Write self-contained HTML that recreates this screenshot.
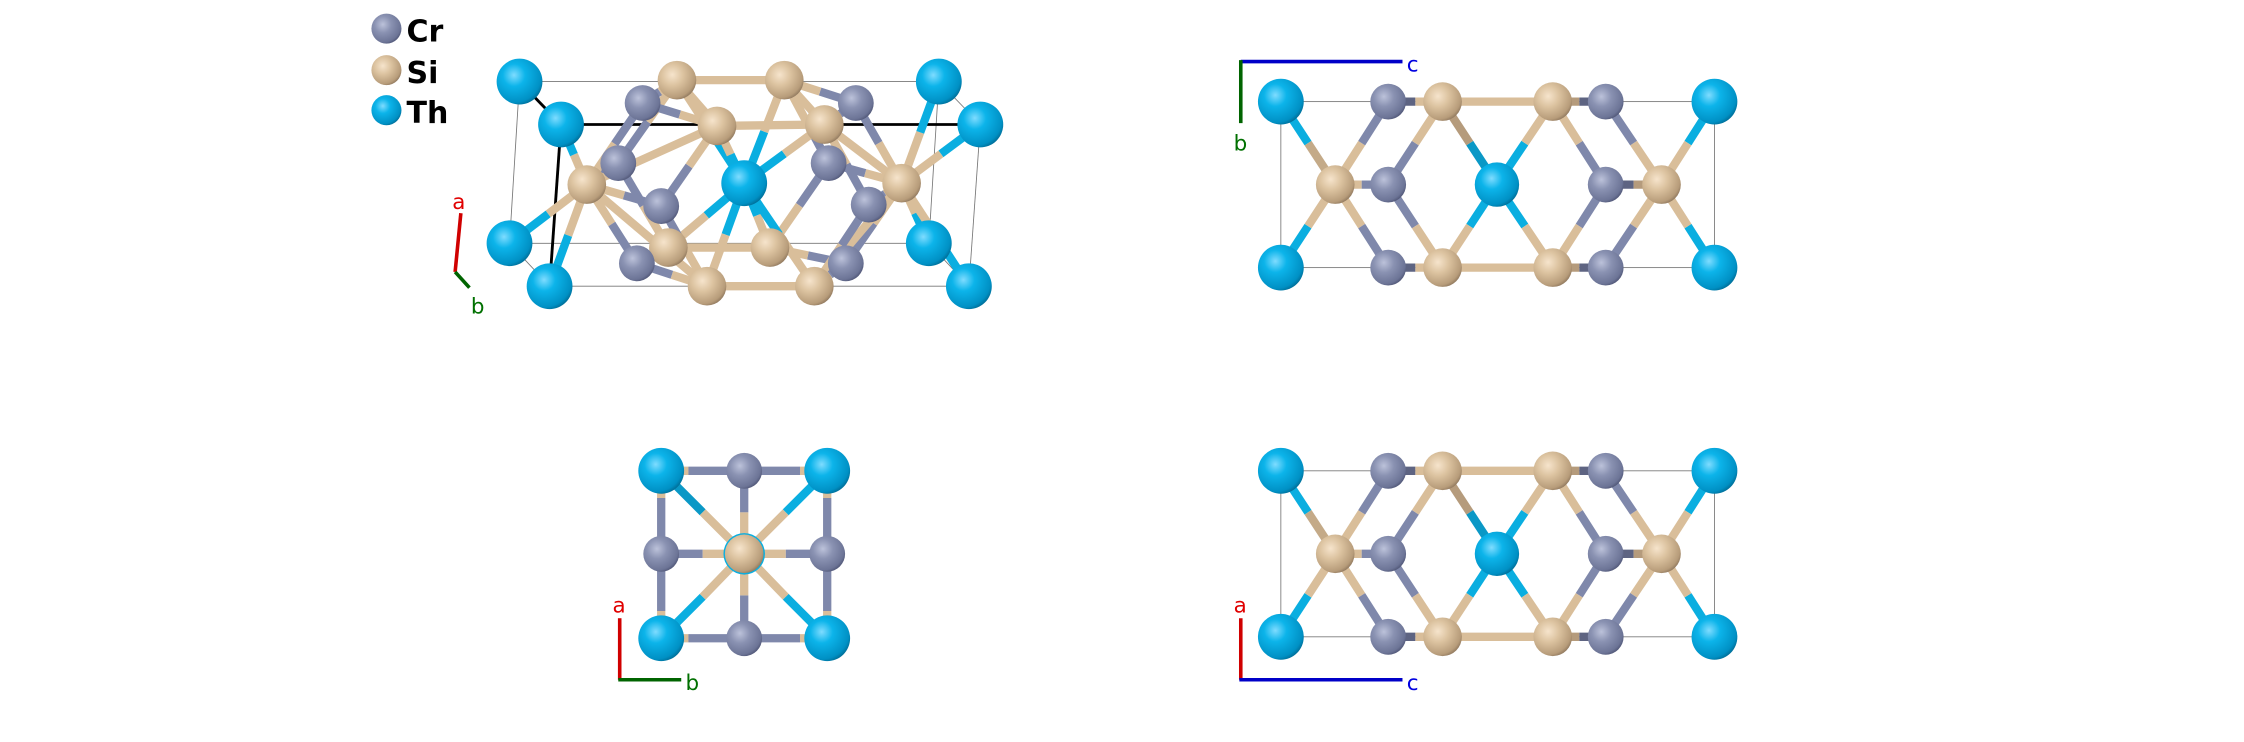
<!DOCTYPE html>
<html><head><meta charset="utf-8"><style>
html,body{margin:0;padding:0;background:#fff;}
svg{display:block;}
text{font-family:"DejaVu Sans","Liberation Sans",sans-serif;}
g[stroke-width="6.5"]{stroke-width:5.8;}
</style></head><body>
<svg width="2244" height="742" viewBox="0 0 1568 518.5" xmlns="http://www.w3.org/2000/svg">
<defs>
<radialGradient id="th" cx="0.38" cy="0.36" r="0.7"><stop offset="0" stop-color="#7fdcff"/><stop offset="0.35" stop-color="#0cb4ea"/><stop offset="0.85" stop-color="#0090c4"/><stop offset="1" stop-color="#006890"/></radialGradient>
<radialGradient id="si" cx="0.38" cy="0.36" r="0.7"><stop offset="0" stop-color="#f6e4cc"/><stop offset="0.4" stop-color="#dcc3a0"/><stop offset="0.85" stop-color="#b79c7a"/><stop offset="1" stop-color="#8a735a"/></radialGradient>
<radialGradient id="cr" cx="0.38" cy="0.36" r="0.7"><stop offset="0" stop-color="#bcc2da"/><stop offset="0.4" stop-color="#8a92b2"/><stop offset="0.85" stop-color="#6c7496"/><stop offset="1" stop-color="#4c5272"/></radialGradient>
</defs>

<!-- Legend -->
<circle cx="270" cy="20" r="10.5" fill="url(#cr)"/>
<circle cx="270" cy="49" r="10.5" fill="url(#si)"/>
<circle cx="270" cy="77" r="10.5" fill="url(#th)"/>
<text x="284" y="29" font-size="21" font-weight="bold" fill="#000">Cr</text>
<text x="284" y="58" font-size="21" font-weight="bold" fill="#000">Si</text>
<text x="284" y="86" font-size="21" font-weight="bold" fill="#000">Th</text>

<!-- Panel 1: 3D view -->
<g stroke="#777" stroke-width="0.6" fill="none">
<line x1="363" y1="57" x2="656" y2="57"/><line x1="656" y1="57" x2="685" y2="87"/>
<line x1="363" y1="57" x2="356" y2="170"/><line x1="656" y1="57" x2="649" y2="170"/>
<line x1="685" y1="87" x2="677" y2="200"/><line x1="356" y1="170" x2="649" y2="170"/>
<line x1="384" y1="200" x2="677" y2="200"/><line x1="356" y1="170" x2="384" y2="200"/><line x1="649" y1="170" x2="677" y2="200"/>
</g>
<g stroke="#000" stroke-width="2"><line x1="363" y1="57" x2="392" y2="87"/><line x1="392" y1="87" x2="685" y2="87"/><line x1="392" y1="87" x2="384" y2="200"/></g>

<g stroke-width="6.5" fill="none">
<line x1="467" y1="173" x2="538" y2="173" stroke="#d9be9a"/>
<line x1="473" y1="56" x2="548" y2="56" stroke="#d9be9a"/>
<line x1="473" y1="56" x2="501" y2="88" stroke="#d9be9a"/>
<line x1="548" y1="56" x2="576" y2="87" stroke="#d9be9a"/>
<line x1="432" y1="114" x2="452.5" y2="85" stroke="#7f88ab"/><line x1="452.5" y1="85" x2="473" y2="56" stroke="#d9be9a"/>
<line x1="579" y1="114" x2="563.5" y2="85" stroke="#7f88ab"/><line x1="563.5" y1="85" x2="548" y2="56" stroke="#d9be9a"/>
<line x1="445" y1="184" x2="456" y2="178.5" stroke="#7f88ab"/><line x1="456" y1="178.5" x2="467" y2="173" stroke="#d9be9a"/>
<line x1="591" y1="184" x2="564.5" y2="178.5" stroke="#7f88ab"/><line x1="564.5" y1="178.5" x2="538" y2="173" stroke="#d9be9a"/>
<line x1="432" y1="114" x2="449.5" y2="143.5" stroke="#7f88ab"/><line x1="449.5" y1="143.5" x2="467" y2="173" stroke="#d9be9a"/>
<line x1="579" y1="114" x2="558.5" y2="143.5" stroke="#7f88ab"/><line x1="558.5" y1="143.5" x2="538" y2="173" stroke="#d9be9a"/>
<line x1="449" y1="72" x2="461" y2="64" stroke="#7f88ab"/><line x1="461" y1="64" x2="473" y2="56" stroke="#d9be9a"/>
<line x1="449" y1="72" x2="475" y2="80" stroke="#7f88ab"/><line x1="475" y1="80" x2="501" y2="88" stroke="#d9be9a"/>
<line x1="598" y1="72" x2="573" y2="64" stroke="#7f88ab"/><line x1="573" y1="64" x2="548" y2="56" stroke="#d9be9a"/>
<line x1="598" y1="72" x2="587" y2="79.5" stroke="#7f88ab"/><line x1="587" y1="79.5" x2="576" y2="87" stroke="#d9be9a"/>
<line x1="520" y1="128" x2="496.5" y2="92" stroke="#0aaee0"/><line x1="496.5" y1="92" x2="473" y2="56" stroke="#d9be9a"/>
<line x1="520" y1="128" x2="534" y2="92" stroke="#0aaee0"/><line x1="534" y1="92" x2="548" y2="56" stroke="#d9be9a"/>
<line x1="520" y1="128" x2="493.5" y2="150.5" stroke="#0aaee0"/><line x1="493.5" y1="150.5" x2="467" y2="173" stroke="#d9be9a"/>
<line x1="520" y1="128" x2="529" y2="150.5" stroke="#0aaee0"/><line x1="529" y1="150.5" x2="538" y2="173" stroke="#d9be9a"/>
<line x1="520" y1="128" x2="510.5" y2="108" stroke="#0aaee0"/><line x1="510.5" y1="108" x2="501" y2="88" stroke="#d9be9a"/>
<line x1="520" y1="128" x2="548" y2="107.5" stroke="#0aaee0"/><line x1="548" y1="107.5" x2="576" y2="87" stroke="#d9be9a"/>
<line x1="520" y1="128" x2="507" y2="164" stroke="#0aaee0"/><line x1="507" y1="164" x2="494" y2="200" stroke="#d9be9a"/>
<line x1="520" y1="128" x2="544.5" y2="164" stroke="#0aaee0"/><line x1="544.5" y1="164" x2="569" y2="200" stroke="#d9be9a"/>
<line x1="410" y1="129" x2="401" y2="108" stroke="#d9be9a"/><line x1="401" y1="108" x2="392" y2="87" stroke="#0aaee0"/>
<line x1="410" y1="129" x2="383" y2="149.5" stroke="#d9be9a"/><line x1="383" y1="149.5" x2="356" y2="170" stroke="#0aaee0"/>
<line x1="410" y1="129" x2="397" y2="164.5" stroke="#d9be9a"/><line x1="397" y1="164.5" x2="384" y2="200" stroke="#0aaee0"/>
<line x1="410" y1="129" x2="421" y2="121.5" stroke="#d9be9a"/><line x1="421" y1="121.5" x2="432" y2="114" stroke="#7f88ab"/>
<line x1="410" y1="129" x2="436" y2="136.5" stroke="#d9be9a"/><line x1="436" y1="136.5" x2="462" y2="144" stroke="#7f88ab"/>
<line x1="410" y1="129" x2="427.5" y2="156.5" stroke="#d9be9a"/><line x1="427.5" y1="156.5" x2="445" y2="184" stroke="#7f88ab"/>
<line x1="410" y1="129" x2="429.5" y2="100.5" stroke="#d9be9a"/><line x1="429.5" y1="100.5" x2="449" y2="72" stroke="#7f88ab"/>
<line x1="410" y1="129" x2="501" y2="88" stroke="#d9be9a"/>
<line x1="410" y1="129" x2="494" y2="200" stroke="#d9be9a"/>
<line x1="630" y1="128" x2="643" y2="92.5" stroke="#d9be9a"/><line x1="643" y1="92.5" x2="656" y2="57" stroke="#0aaee0"/>
<line x1="630" y1="128" x2="657.5" y2="107.5" stroke="#d9be9a"/><line x1="657.5" y1="107.5" x2="685" y2="87" stroke="#0aaee0"/>
<line x1="630" y1="128" x2="639.5" y2="149" stroke="#d9be9a"/><line x1="639.5" y1="149" x2="649" y2="170" stroke="#0aaee0"/>
<line x1="630" y1="128" x2="653.5" y2="164" stroke="#d9be9a"/><line x1="653.5" y1="164" x2="677" y2="200" stroke="#0aaee0"/>
<line x1="630" y1="128" x2="604.5" y2="121" stroke="#d9be9a"/><line x1="604.5" y1="121" x2="579" y2="114" stroke="#7f88ab"/>
<line x1="630" y1="128" x2="618.5" y2="135.5" stroke="#d9be9a"/><line x1="618.5" y1="135.5" x2="607" y2="143" stroke="#7f88ab"/>
<line x1="630" y1="128" x2="610.5" y2="156" stroke="#d9be9a"/><line x1="610.5" y1="156" x2="591" y2="184" stroke="#7f88ab"/>
<line x1="630" y1="128" x2="614" y2="100" stroke="#d9be9a"/><line x1="614" y1="100" x2="598" y2="72" stroke="#7f88ab"/>
<line x1="630" y1="128" x2="576" y2="87" stroke="#d9be9a"/>
<line x1="630" y1="128" x2="569" y2="200" stroke="#d9be9a"/>
<line x1="462" y1="144" x2="481.5" y2="116" stroke="#7f88ab"/><line x1="481.5" y1="116" x2="501" y2="88" stroke="#d9be9a"/>
<line x1="462" y1="144" x2="478" y2="172" stroke="#7f88ab"/><line x1="478" y1="172" x2="494" y2="200" stroke="#d9be9a"/>
<line x1="607" y1="143" x2="591.5" y2="115" stroke="#7f88ab"/><line x1="591.5" y1="115" x2="576" y2="87" stroke="#d9be9a"/>
<line x1="607" y1="143" x2="588" y2="171.5" stroke="#7f88ab"/><line x1="588" y1="171.5" x2="569" y2="200" stroke="#d9be9a"/>
<line x1="445" y1="184" x2="469.5" y2="192" stroke="#7f88ab"/><line x1="469.5" y1="192" x2="494" y2="200" stroke="#d9be9a"/>
<line x1="591" y1="184" x2="580" y2="192" stroke="#7f88ab"/><line x1="580" y1="192" x2="569" y2="200" stroke="#d9be9a"/>
<line x1="501" y1="88" x2="576" y2="87" stroke="#d9be9a"/>
<line x1="494" y1="200" x2="569" y2="200" stroke="#d9be9a"/>
</g>
<g>
<circle cx="363" cy="57" r="16" fill="url(#th)"/><circle cx="656" cy="57" r="16" fill="url(#th)"/>
<circle cx="356" cy="170" r="16" fill="url(#th)"/><circle cx="649" cy="170" r="16" fill="url(#th)"/>
<circle cx="467" cy="173" r="13.5" fill="url(#si)"/><circle cx="538" cy="173" r="13.5" fill="url(#si)"/>
<circle cx="473" cy="56" r="13.5" fill="url(#si)"/><circle cx="548" cy="56" r="13.5" fill="url(#si)"/>
<circle cx="432" cy="114" r="12.5" fill="url(#cr)"/><circle cx="579" cy="114" r="12.5" fill="url(#cr)"/>
<circle cx="449" cy="72" r="12.5" fill="url(#cr)"/><circle cx="598" cy="72" r="12.5" fill="url(#cr)"/>
<circle cx="445" cy="184" r="12.5" fill="url(#cr)"/><circle cx="591" cy="184" r="12.5" fill="url(#cr)"/>
<circle cx="520" cy="128" r="16" fill="url(#th)"/>
<circle cx="462" cy="144" r="12.5" fill="url(#cr)"/><circle cx="607" cy="143" r="12.5" fill="url(#cr)"/>
<circle cx="410" cy="129" r="13.5" fill="url(#si)"/><circle cx="630" cy="128" r="13.5" fill="url(#si)"/>
<circle cx="501" cy="88" r="13.5" fill="url(#si)"/><circle cx="576" cy="87" r="13.5" fill="url(#si)"/>
<circle cx="494" cy="200" r="13.5" fill="url(#si)"/><circle cx="569" cy="200" r="13.5" fill="url(#si)"/>
<circle cx="392" cy="87" r="16" fill="url(#th)"/><circle cx="685" cy="87" r="16" fill="url(#th)"/>
<circle cx="384" cy="200" r="16" fill="url(#th)"/><circle cx="677" cy="200" r="16" fill="url(#th)"/>
</g>
<line x1="322" y1="149" x2="318" y2="190" stroke="#d00000" stroke-width="2.5"/>
<line x1="318" y1="190" x2="328" y2="201" stroke="#006400" stroke-width="2.5"/>
<text x="316" y="146" font-size="15" fill="#e00000">a</text>
<text x="329" y="219" font-size="15" fill="#007000">b</text>

<g id="proj">
<rect x="895" y="71" width="303" height="116" fill="none" stroke="#777" stroke-width="0.6"/>
<g stroke-width="6.5" fill="none">
<line x1="1008" y1="71" x2="1085" y2="71" stroke="#d9be9a"/><line x1="1008" y1="187" x2="1085" y2="187" stroke="#d9be9a"/>
<line x1="970" y1="71" x2="989" y2="71" stroke="#5e6482"/><line x1="989" y1="71" x2="1008" y2="71" stroke="#d9be9a"/>
<line x1="970" y1="187" x2="989" y2="187" stroke="#5e6482"/><line x1="989" y1="187" x2="1008" y2="187" stroke="#d9be9a"/>
<line x1="1122" y1="71" x2="1103.5" y2="71" stroke="#5e6482"/><line x1="1103.5" y1="71" x2="1085" y2="71" stroke="#b59b7c"/>
<line x1="1122" y1="187" x2="1103.5" y2="187" stroke="#5e6482"/><line x1="1103.5" y1="187" x2="1085" y2="187" stroke="#b59b7c"/>
<line x1="895" y1="71" x2="914" y2="100" stroke="#0aaee0"/><line x1="914" y1="100" x2="933" y2="129" stroke="#c4aa88"/>
<line x1="895" y1="187" x2="914" y2="158" stroke="#0aaee0"/><line x1="914" y1="158" x2="933" y2="129" stroke="#d9be9a"/>
<line x1="1198" y1="71" x2="1179.5" y2="100" stroke="#0aaee0"/><line x1="1179.5" y1="100" x2="1161" y2="129" stroke="#d9be9a"/>
<line x1="1198" y1="187" x2="1179.5" y2="158" stroke="#0aaee0"/><line x1="1179.5" y1="158" x2="1161" y2="129" stroke="#d9be9a"/>
<line x1="933" y1="129" x2="951.5" y2="129" stroke="#d9be9a"/><line x1="951.5" y1="129" x2="970" y2="129" stroke="#7f88ab"/>
<line x1="933" y1="129" x2="951.5" y2="100" stroke="#d9be9a"/><line x1="951.5" y1="100" x2="970" y2="71" stroke="#7f88ab"/>
<line x1="933" y1="129" x2="951.5" y2="158" stroke="#d9be9a"/><line x1="951.5" y1="158" x2="970" y2="187" stroke="#7f88ab"/>
<line x1="970" y1="129" x2="989" y2="100" stroke="#7f88ab"/><line x1="989" y1="100" x2="1008" y2="71" stroke="#d9be9a"/>
<line x1="970" y1="129" x2="989" y2="158" stroke="#7f88ab"/><line x1="989" y1="158" x2="1008" y2="187" stroke="#d9be9a"/>
<line x1="1046" y1="129" x2="1027" y2="100" stroke="#0a98c6"/><line x1="1027" y1="100" x2="1008" y2="71" stroke="#b59b7c"/>
<line x1="1046" y1="129" x2="1065.5" y2="100" stroke="#0aaee0"/><line x1="1065.5" y1="100" x2="1085" y2="71" stroke="#d9be9a"/>
<line x1="1046" y1="129" x2="1027" y2="158" stroke="#0aaee0"/><line x1="1027" y1="158" x2="1008" y2="187" stroke="#d9be9a"/>
<line x1="1046" y1="129" x2="1065.5" y2="158" stroke="#0aaee0"/><line x1="1065.5" y1="158" x2="1085" y2="187" stroke="#d9be9a"/>
<line x1="1122" y1="129" x2="1103.5" y2="100" stroke="#7f88ab"/><line x1="1103.5" y1="100" x2="1085" y2="71" stroke="#d9be9a"/>
<line x1="1122" y1="129" x2="1103.5" y2="158" stroke="#7f88ab"/><line x1="1103.5" y1="158" x2="1085" y2="187" stroke="#d9be9a"/>
<line x1="1122" y1="129" x2="1141.5" y2="129" stroke="#5e6482"/><line x1="1141.5" y1="129" x2="1161" y2="129" stroke="#b59b7c"/>
<line x1="1161" y1="129" x2="1141.5" y2="100" stroke="#d9be9a"/><line x1="1141.5" y1="100" x2="1122" y2="71" stroke="#7f88ab"/>
<line x1="1161" y1="129" x2="1141.5" y2="158" stroke="#d9be9a"/><line x1="1141.5" y1="158" x2="1122" y2="187" stroke="#7f88ab"/>
</g>
<circle cx="970" cy="71" r="12.5" fill="url(#cr)"/><circle cx="970" cy="187" r="12.5" fill="url(#cr)"/>
<circle cx="1122" cy="71" r="12.5" fill="url(#cr)"/><circle cx="1122" cy="187" r="12.5" fill="url(#cr)"/>
<circle cx="970" cy="129" r="12.5" fill="url(#cr)"/><circle cx="1122" cy="129" r="12.5" fill="url(#cr)"/>
<circle cx="1008" cy="71" r="13.5" fill="url(#si)"/><circle cx="1085" cy="71" r="13.5" fill="url(#si)"/>
<circle cx="1008" cy="187" r="13.5" fill="url(#si)"/><circle cx="1085" cy="187" r="13.5" fill="url(#si)"/>
<circle cx="933" cy="129" r="13.5" fill="url(#si)"/><circle cx="1161" cy="129" r="13.5" fill="url(#si)"/>
<circle cx="895" cy="71" r="16" fill="url(#th)"/><circle cx="895" cy="187" r="16" fill="url(#th)"/>
<circle cx="1198" cy="71" r="16" fill="url(#th)"/><circle cx="1198" cy="187" r="16" fill="url(#th)"/>
<circle cx="1046" cy="129" r="15.5" fill="url(#th)"/>
</g>
<line x1="867" y1="43" x2="980" y2="43" stroke="#0000c8" stroke-width="2.5"/>
<line x1="867" y1="42" x2="867" y2="86" stroke="#006400" stroke-width="2.5"/>
<text x="983" y="50" font-size="15" fill="#0000e0">c</text>
<text x="862" y="105" font-size="15" fill="#007000">b</text>

<use href="#proj" transform="translate(0,258)"/>
<line x1="867" y1="475" x2="867" y2="432" stroke="#d00000" stroke-width="2.5"/>
<line x1="866" y1="475" x2="980" y2="475" stroke="#0000c8" stroke-width="2.5"/>
<text x="862" y="428" font-size="15" fill="#e00000">a</text>
<text x="983" y="482" font-size="15" fill="#0000e0">c</text>

<g stroke-width="6.5" fill="none">
<line x1="462" y1="329" x2="481" y2="329" stroke="#d9be9a"/><line x1="481" y1="329" x2="520" y2="329" stroke="#7f88ab"/>
<line x1="578" y1="329" x2="559" y2="329" stroke="#d9be9a"/><line x1="559" y1="329" x2="520" y2="329" stroke="#7f88ab"/>
<line x1="462" y1="446" x2="481" y2="446" stroke="#d9be9a"/><line x1="481" y1="446" x2="520" y2="446" stroke="#7f88ab"/>
<line x1="578" y1="446" x2="559" y2="446" stroke="#d9be9a"/><line x1="559" y1="446" x2="520" y2="446" stroke="#7f88ab"/>
<line x1="462" y1="329" x2="462" y2="348" stroke="#d9be9a"/><line x1="462" y1="348" x2="462" y2="387" stroke="#7f88ab"/>
<line x1="462" y1="446" x2="462" y2="427" stroke="#d9be9a"/><line x1="462" y1="427" x2="462" y2="387" stroke="#7f88ab"/>
<line x1="578" y1="329" x2="578" y2="348" stroke="#d9be9a"/><line x1="578" y1="348" x2="578" y2="387" stroke="#7f88ab"/>
<line x1="578" y1="446" x2="578" y2="427" stroke="#d9be9a"/><line x1="578" y1="427" x2="578" y2="387" stroke="#7f88ab"/>
<line x1="462" y1="329" x2="491" y2="358" stroke="#0a98c6"/><line x1="491" y1="358" x2="520" y2="387" stroke="#d9be9a"/>
<line x1="578" y1="329" x2="549" y2="358" stroke="#0aaee0"/><line x1="549" y1="358" x2="520" y2="387" stroke="#d9be9a"/>
<line x1="462" y1="446" x2="491" y2="417" stroke="#0aaee0"/><line x1="491" y1="417" x2="520" y2="387" stroke="#d9be9a"/>
<line x1="578" y1="446" x2="549" y2="417" stroke="#0aaee0"/><line x1="549" y1="417" x2="520" y2="387" stroke="#d9be9a"/>
<line x1="520" y1="329" x2="520" y2="358" stroke="#7f88ab"/><line x1="520" y1="358" x2="520" y2="387" stroke="#d9be9a"/>
<line x1="520" y1="446" x2="520" y2="416" stroke="#7f88ab"/><line x1="520" y1="416" x2="520" y2="387" stroke="#d9be9a"/>
<line x1="462" y1="387" x2="491" y2="387" stroke="#7f88ab"/><line x1="491" y1="387" x2="520" y2="387" stroke="#d9be9a"/>
<line x1="578" y1="387" x2="549" y2="387" stroke="#7f88ab"/><line x1="549" y1="387" x2="520" y2="387" stroke="#d9be9a"/>
</g>
<circle cx="520" cy="387" r="14.5" fill="#0aaee0"/>
<circle cx="520" cy="329" r="12.5" fill="url(#cr)"/><circle cx="520" cy="446" r="12.5" fill="url(#cr)"/>
<circle cx="462" cy="387" r="12.5" fill="url(#cr)"/><circle cx="578" cy="387" r="12.5" fill="url(#cr)"/>
<circle cx="520" cy="387" r="13.5" fill="url(#si)"/>
<circle cx="462" cy="329" r="16" fill="url(#th)"/><circle cx="578" cy="329" r="16" fill="url(#th)"/>
<circle cx="462" cy="446" r="16" fill="url(#th)"/><circle cx="578" cy="446" r="16" fill="url(#th)"/>
<line x1="433" y1="475" x2="433" y2="432" stroke="#d00000" stroke-width="2.5"/>
<line x1="432" y1="475" x2="476" y2="475" stroke="#006400" stroke-width="2.5"/>
<text x="428" y="428" font-size="15" fill="#e00000">a</text>
<text x="479" y="482" font-size="15" fill="#007000">b</text>
</svg>
</body></html>
